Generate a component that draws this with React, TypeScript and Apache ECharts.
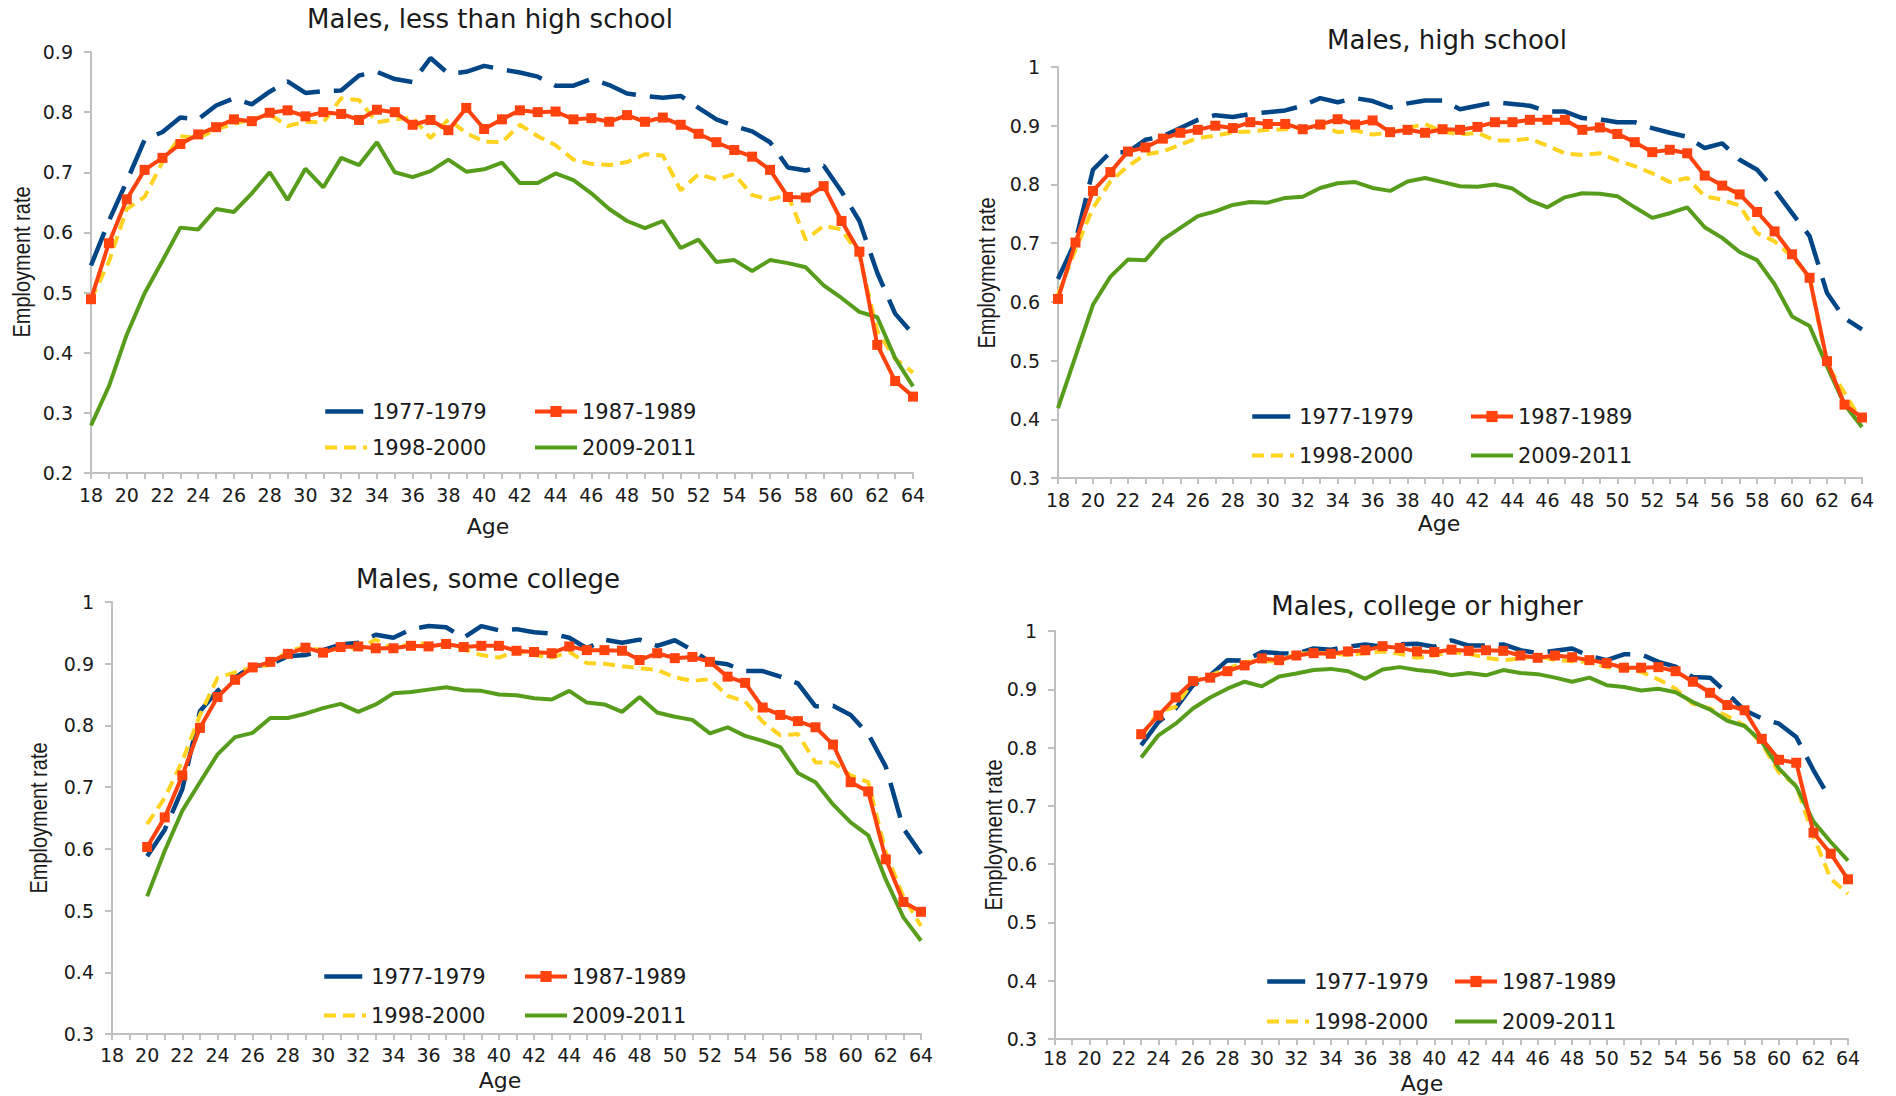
import React, { useEffect, useRef } from "react";
import * as echarts from "echarts";

const FONT = '"DejaVu Sans", "Liberation Sans", sans-serif';
const TEXT = "#1a1a1a";
const AXIS = "#c0c0c0";

const PERIODS = ["1977-1979", "1987-1989", "1998-2000", "2009-2011"];
const COLORS = ["#004586", "#ff420e", "#ffd320", "#579d1c"];

const PANEL_TITLES = [
  "Males, less than high school",
  "Males, high school",
  "Males, some college",
  "Males, college or higher",
];
const Y_MIN = [0.2, 0.3, 0.3, 0.3];
const Y_MAX = [0.9, 1, 1, 1];
const START_AGE = [18, 18, 20, 23];

// Panel 1: less than high school (ages 18-64)
const lessHS_1977 = [0.545, 0.619, 0.685, 0.754, 0.767, 0.791, 0.788, 0.811, 0.823, 0.813, 0.834, 0.851, 0.832, 0.835, 0.836, 0.861, 0.867, 0.855, 0.85, 0.89, 0.864, 0.867, 0.877, 0.871, 0.866, 0.859, 0.844, 0.844, 0.855, 0.845, 0.831, 0.827, 0.824, 0.827, 0.807, 0.788, 0.777, 0.768, 0.75, 0.708, 0.703, 0.711, 0.668, 0.619, 0.533, 0.465, 0.431];
const lessHS_1987 = [0.489, 0.582, 0.655, 0.704, 0.724, 0.747, 0.763, 0.775, 0.788, 0.785, 0.799, 0.803, 0.793, 0.8, 0.797, 0.787, 0.804, 0.8, 0.779, 0.787, 0.77, 0.807, 0.772, 0.788, 0.803, 0.8, 0.801, 0.788, 0.79, 0.784, 0.795, 0.784, 0.791, 0.779, 0.764, 0.75, 0.737, 0.726, 0.704, 0.659, 0.658, 0.677, 0.619, 0.568, 0.413, 0.353, 0.327];
const lessHS_1998 = [0.488, 0.551, 0.639, 0.659, 0.717, 0.76, 0.757, 0.771, 0.781, 0.788, 0.796, 0.777, 0.784, 0.783, 0.823, 0.82, 0.783, 0.788, 0.791, 0.757, 0.788, 0.765, 0.751, 0.75, 0.779, 0.76, 0.745, 0.721, 0.714, 0.712, 0.717, 0.73, 0.728, 0.67, 0.697, 0.688, 0.697, 0.662, 0.655, 0.662, 0.588, 0.611, 0.605, 0.562, 0.436, 0.39, 0.367];
const lessHS_2009 = [0.279, 0.344, 0.43, 0.499, 0.553, 0.608, 0.605, 0.639, 0.634, 0.665, 0.7, 0.654, 0.706, 0.675, 0.724, 0.712, 0.75, 0.7, 0.692, 0.702, 0.721, 0.701, 0.705, 0.716, 0.682, 0.682, 0.698, 0.687, 0.665, 0.639, 0.619, 0.607, 0.619, 0.574, 0.588, 0.551, 0.554, 0.536, 0.554, 0.549, 0.542, 0.512, 0.491, 0.468, 0.459, 0.391, 0.344];

// Panel 2: high school (ages 18-64)
const hs_1977 = [0.639, 0.703, 0.825, 0.855, 0.855, 0.876, 0.882, 0.896, 0.91, 0.918, 0.915, 0.92, 0.923, 0.926, 0.934, 0.947, 0.94, 0.947, 0.942, 0.931, 0.938, 0.943, 0.943, 0.928, 0.934, 0.94, 0.937, 0.934, 0.924, 0.924, 0.913, 0.911, 0.906, 0.906, 0.896, 0.888, 0.881, 0.862, 0.87, 0.842, 0.825, 0.791, 0.751, 0.712, 0.615, 0.572, 0.553];
const hs_1987 = [0.605, 0.701, 0.789, 0.821, 0.856, 0.863, 0.878, 0.888, 0.893, 0.9, 0.896, 0.906, 0.903, 0.903, 0.894, 0.902, 0.911, 0.902, 0.909, 0.889, 0.893, 0.888, 0.894, 0.893, 0.898, 0.906, 0.906, 0.91, 0.91, 0.91, 0.893, 0.897, 0.886, 0.872, 0.855, 0.859, 0.853, 0.815, 0.798, 0.783, 0.753, 0.72, 0.681, 0.641, 0.499, 0.425, 0.403];
const hs_1998 = [0.612, 0.689, 0.76, 0.805, 0.831, 0.851, 0.856, 0.868, 0.879, 0.883, 0.889, 0.89, 0.893, 0.894, 0.897, 0.9, 0.889, 0.892, 0.885, 0.888, 0.896, 0.903, 0.89, 0.885, 0.888, 0.875, 0.875, 0.878, 0.866, 0.853, 0.85, 0.853, 0.841, 0.831, 0.819, 0.804, 0.811, 0.78, 0.774, 0.764, 0.717, 0.703, 0.677, 0.643, 0.493, 0.445, 0.396];
const hs_2009 = [0.419, 0.507, 0.595, 0.643, 0.672, 0.671, 0.706, 0.726, 0.746, 0.754, 0.765, 0.77, 0.769, 0.777, 0.779, 0.794, 0.802, 0.804, 0.794, 0.789, 0.805, 0.811, 0.804, 0.797, 0.796, 0.8, 0.793, 0.773, 0.761, 0.778, 0.785, 0.784, 0.78, 0.761, 0.743, 0.751, 0.761, 0.727, 0.709, 0.685, 0.671, 0.63, 0.575, 0.559, 0.49, 0.425, 0.387];

// Panel 3: some college (ages 20-64)
const sc_1977 = [0.588, 0.631, 0.697, 0.823, 0.856, 0.878, 0.896, 0.899, 0.912, 0.914, 0.922, 0.931, 0.934, 0.947, 0.942, 0.956, 0.961, 0.959, 0.942, 0.961, 0.954, 0.956, 0.951, 0.949, 0.942, 0.925, 0.939, 0.934, 0.939, 0.929, 0.938, 0.922, 0.903, 0.899, 0.888, 0.888, 0.879, 0.868, 0.831, 0.832, 0.817, 0.786, 0.733, 0.633, 0.592];
const sc_1987 = [0.603, 0.651, 0.719, 0.796, 0.846, 0.874, 0.894, 0.903, 0.916, 0.926, 0.918, 0.927, 0.928, 0.925, 0.925, 0.929, 0.928, 0.932, 0.927, 0.929, 0.929, 0.921, 0.919, 0.917, 0.928, 0.922, 0.922, 0.921, 0.906, 0.917, 0.909, 0.911, 0.903, 0.879, 0.869, 0.829, 0.817, 0.807, 0.797, 0.769, 0.708, 0.693, 0.583, 0.514, 0.498];
const sc_1998 = [0.64, 0.683, 0.742, 0.817, 0.877, 0.886, 0.894, 0.898, 0.921, 0.927, 0.921, 0.925, 0.925, 0.939, 0.922, 0.934, 0.932, 0.929, 0.923, 0.914, 0.91, 0.921, 0.914, 0.91, 0.919, 0.901, 0.9, 0.896, 0.893, 0.89, 0.878, 0.872, 0.875, 0.848, 0.839, 0.806, 0.784, 0.786, 0.74, 0.74, 0.719, 0.708, 0.594, 0.522, 0.475];
const sc_2009 = [0.523, 0.597, 0.662, 0.708, 0.753, 0.781, 0.788, 0.812, 0.812, 0.819, 0.828, 0.835, 0.822, 0.834, 0.852, 0.854, 0.858, 0.862, 0.857, 0.856, 0.85, 0.849, 0.844, 0.842, 0.856, 0.837, 0.834, 0.822, 0.846, 0.821, 0.814, 0.809, 0.787, 0.797, 0.783, 0.775, 0.765, 0.723, 0.708, 0.672, 0.643, 0.622, 0.55, 0.489, 0.451];

// Panel 4: college or higher (ages 23-64; 1977-1979 ends at 63)
const col_1977 = [0.804, 0.844, 0.867, 0.907, 0.924, 0.95, 0.949, 0.964, 0.962, 0.961, 0.97, 0.968, 0.973, 0.977, 0.973, 0.977, 0.978, 0.973, 0.984, 0.975, 0.975, 0.977, 0.967, 0.962, 0.966, 0.97, 0.957, 0.95, 0.96, 0.96, 0.947, 0.939, 0.921, 0.92, 0.893, 0.864, 0.85, 0.841, 0.818, 0.761, 0.71];
const col_1987 = [0.823, 0.855, 0.886, 0.914, 0.92, 0.931, 0.941, 0.953, 0.95, 0.958, 0.962, 0.961, 0.965, 0.967, 0.974, 0.971, 0.965, 0.964, 0.968, 0.966, 0.967, 0.966, 0.958, 0.954, 0.958, 0.955, 0.95, 0.945, 0.937, 0.937, 0.938, 0.931, 0.913, 0.894, 0.873, 0.864, 0.815, 0.779, 0.774, 0.654, 0.618, 0.574];
const col_1998 = [0.818, 0.861, 0.87, 0.913, 0.924, 0.935, 0.947, 0.948, 0.948, 0.961, 0.962, 0.962, 0.959, 0.962, 0.965, 0.961, 0.954, 0.958, 0.964, 0.961, 0.954, 0.95, 0.953, 0.957, 0.95, 0.948, 0.947, 0.938, 0.935, 0.93, 0.917, 0.901, 0.875, 0.867, 0.854, 0.838, 0.807, 0.757, 0.735, 0.647, 0.575, 0.549];
const col_2009 = [0.783, 0.821, 0.841, 0.867, 0.886, 0.901, 0.913, 0.905, 0.922, 0.927, 0.933, 0.935, 0.931, 0.918, 0.934, 0.938, 0.933, 0.93, 0.924, 0.928, 0.924, 0.933, 0.928, 0.926, 0.92, 0.913, 0.92, 0.907, 0.904, 0.898, 0.901, 0.895, 0.878, 0.865, 0.846, 0.837, 0.81, 0.764, 0.733, 0.673, 0.638, 0.606];

const PANEL_DATA = [
  [lessHS_1977, lessHS_1987, lessHS_1998, lessHS_2009],
  [hs_1977, hs_1987, hs_1998, hs_2009],
  [sc_1977, sc_1987, sc_1998, sc_2009],
  [col_1977, col_1987, col_1998, col_2009],
];

// layout (pixels)
const GRIDS = [
  { left: 91, top: 52, width: 822, height: 421 },
  { left: 1058, top: 67, width: 804, height: 411 },
  { left: 112, top: 602, width: 809, height: 432 },
  { left: 1055, top: 631, width: 793, height: 408 },
];
const X_LABEL_MARGIN = [12, 12, 11, 9];
const TITLE_POS = [
  [490, 20],
  [1447, 41],
  [488, 580],
  [1427, 607],
];
const AGE_POS = [
  [488, 526],
  [1439, 523],
  [500, 1080],
  [1422, 1083],
];
const YNAME_POS = [
  [22, 262],
  [987, 273],
  [39, 818],
  [994, 835],
];
const LEGEND_ROWS = [
  [413, 449],
  [418, 457],
  [978, 1017],
  [983, 1023],
];
const LEGEND_COLS = [
  [323, 533],
  [1250, 1469],
  [322, 523],
  [1265, 1453],
];

const DASH_LONG = [36, 14];
const DASH_SHORT = [12, 7];

function lineStyleFor(s: number) {
  if (s === 0) return { color: COLORS[0], width: 4.5, type: DASH_LONG as any, cap: "butt" as const };
  if (s === 1) return { color: COLORS[1], width: 4 };
  if (s === 2) return { color: COLORS[2], width: 4, type: DASH_SHORT as any, cap: "butt" as const };
  return { color: COLORS[3], width: 4 };
}

function legendLineStyle(s: number) {
  if (s === 0) return { color: COLORS[0], width: 4.5, type: [38, 30] as any, cap: "butt" as const };
  if (s === 2) return { color: COLORS[2], width: 4, type: DASH_SHORT as any, cap: "butt" as const };
  return { color: COLORS[s], width: 4, type: "solid" as const };
}

function buildOption() {
  const grid: any[] = [];
  const xAxis: any[] = [];
  const yAxis: any[] = [];
  const series: any[] = [];
  const legend: any[] = [];
  const title: any[] = [];
  const graphic: any[] = [];

  for (let p = 0; p < 4; p++) {
    grid.push({ ...GRIDS[p], containLabel: false });
    xAxis.push({
      type: "value",
      gridIndex: p,
      min: 18,
      max: 64,
      interval: 1,
      axisLine: { show: true, lineStyle: { color: AXIS, width: 2 } },
      axisTick: { show: true, length: 6, lineStyle: { color: AXIS, width: 2 } },
      splitLine: { show: false },
      axisLabel: {
        margin: X_LABEL_MARGIN[p],
        fontSize: 19,
        fontFamily: FONT,
        color: TEXT,
        formatter: (v: number) => (Math.round(v) % 2 === 0 ? String(Math.round(v)) : ""),
      },
    });
    yAxis.push({
      type: "value",
      gridIndex: p,
      min: Y_MIN[p],
      max: Y_MAX[p],
      interval: 0.1,
      axisLine: { show: true, lineStyle: { color: AXIS, width: 2 } },
      axisTick: { show: true, length: 7, lineStyle: { color: AXIS, width: 2 } },
      splitLine: { show: false },
      axisLabel: {
        margin: 18,
        fontSize: 19,
        fontFamily: FONT,
        color: TEXT,
        formatter: (v: number) => {
          const r = Math.round(v * 10) / 10;
          return r === 1 ? "1" : r.toFixed(1);
        },
      },
    });
    for (let s = 0; s < 4; s++) {
      const vals = PANEL_DATA[p][s];
      const start = START_AGE[p];
      series.push({
        type: "line",
        name: PERIODS[s],
        xAxisIndex: p,
        yAxisIndex: p,
        data: vals.map((v, i) => [start + i, v]),
        symbol: s === 1 ? "rect" : "none",
        symbolSize: 10,
        showSymbol: s === 1,
        showAllSymbol: true,
        itemStyle: { color: COLORS[s] },
        lineStyle: lineStyleFor(s),
        z: 2 + (s === 1 ? 1 : 0),
      });
      const row = s < 2 ? 0 : 1;
      const col = s % 2;
      legend.push({
        data: [PERIODS[s]],
        left: LEGEND_COLS[p][col],
        top: LEGEND_ROWS[p][row] - 12,
        itemWidth: 42,
        itemHeight: 14,
        padding: 0,
        selectedMode: false,
        lineStyle: legendLineStyle(s),
        itemStyle:
          s === 1
            ? { color: COLORS[1] }
            : { color: "rgba(0,0,0,0)", borderWidth: 0, opacity: 0 },
        textStyle: { fontSize: 21, fontFamily: FONT, color: TEXT },
      });
    }
    title.push({
      text: PANEL_TITLES[p],
      left: TITLE_POS[p][0],
      top: TITLE_POS[p][1] - 14,
      textAlign: "center",
      padding: 0,
      textStyle: { fontSize: 26, fontWeight: "normal", fontFamily: FONT, color: TEXT },
    });
    graphic.push({
      type: "text",
      x: AGE_POS[p][0],
      y: AGE_POS[p][1],
      style: {
        text: "Age",
        fontSize: 22,
        fontFamily: FONT,
        fill: TEXT,
        align: "center",
        verticalAlign: "middle",
        textAlign: "center",
        textVerticalAlign: "middle",
      },
    });
    graphic.push({
      type: "text",
      x: YNAME_POS[p][0],
      y: YNAME_POS[p][1],
      rotation: Math.PI / 2,
      scaleY: 1.15,
      style: {
        text: "Employment rate",
        fontSize: 20,
        fontFamily: '"Liberation Sans", Arial, sans-serif',
        fill: TEXT,
        align: "center",
        verticalAlign: "middle",
        textAlign: "center",
        textVerticalAlign: "middle",
      },
    });
  }

  return {
    animation: false,
    backgroundColor: "#ffffff",
    textStyle: { fontFamily: FONT },
    title,
    legend,
    grid,
    xAxis,
    yAxis,
    series,
    graphic,
  };
}

export default function App() {
  const ref = useRef<HTMLDivElement>(null);
  useEffect(() => {
    if (!ref.current) return;
    const chart = echarts.init(ref.current, undefined, { renderer: "svg" });
    chart.setOption(buildOption() as any);
    return () => chart.dispose();
  }, []);
  return (
    <div
      ref={ref}
      style={{ position: "fixed", left: 0, top: 0, width: 1896, height: 1096, background: "#fff" }}
    />
  );
}
